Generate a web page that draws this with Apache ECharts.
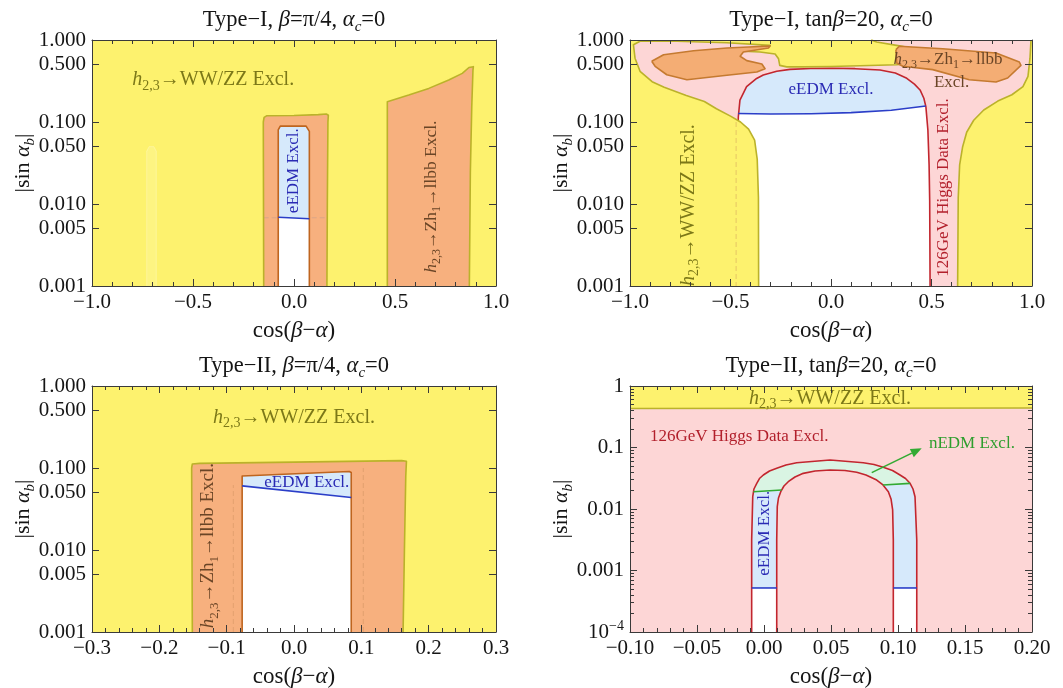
<!DOCTYPE html>
<html>
<head>
<meta charset="utf-8">
<title>Exclusion regions in the (cos(β−α), |sin α_b|) plane</title>
<script src="https://cdn.jsdelivr.net/npm/echarts@6.0.0/dist/echarts.min.js"></script>
<style>
  html, body { margin: 0; padding: 0; background: #ffffff; }
  #chart { width: 1063px; height: 688px; }
</style>
</head>
<body>
<div id="chart"></div>
<script>
// ---------- axis ticks and labels ----------
const xTicksWide = [-1, -0.5, 0, 0.5, 1];
const xLabelsWide = ['−1.0', '−0.5', '0.0', '0.5', '1.0'];
const xTicksNarrow = [-0.3, -0.2, -0.1, 0, 0.1, 0.2, 0.3];
const xLabelsNarrow = ['−0.3', '−0.2', '−0.1', '0.0', '0.1', '0.2', '0.3'];
const xTicksFine = [-0.1, -0.05, 0, 0.05, 0.1, 0.15, 0.2];
const xLabelsFine = ['−0.10', '−0.05', '0.00', '0.05', '0.10', '0.15', '0.20'];
const yTicksThreeDecades = [0.001, 0.005, 0.01, 0.05, 0.1, 0.5, 1];
const yLabelsThreeDecades = ['0.001', '0.005', '0.010', '0.050', '0.100', '0.500', '1.000'];
const yTicksFourDecades = [0.0001, 0.001, 0.01, 0.1, 1];
const yLabelsFourDecades = ['{m|10}{e|−4}', '0.001', '0.01', '0.1', '1'];
const yMinorFourDecades = [
  0.0002, 0.0003, 0.0004, 0.0005, 0.0006, 0.0007, 0.0008, 0.0009,
  0.002, 0.003, 0.004, 0.005, 0.006, 0.007, 0.008, 0.009,
  0.02, 0.03, 0.04, 0.05, 0.06, 0.07, 0.08, 0.09,
  0.2, 0.3, 0.4, 0.5, 0.6, 0.7, 0.8, 0.9
];

// ---------- Type-I, β = π/4 : region outlines [cos(β−α), |sin α_b|] ----------
const t1aWWZZ = [[-1, 0.001], [1, 0.001], [1, 1], [-1, 1]];
const t1aFaintStrip = [[-0.729, 0.001], [-0.729, 0.044], [-0.717, 0.05], [-0.694, 0.05], [-0.682, 0.044], [-0.682, 0.001]];
const t1aLlbbCentre = [[-0.150, 0.001], [-0.152, 0.1], [-0.148, 0.114], [-0.136, 0.119], [0.0, 0.12], [0.12, 0.123], [0.16, 0.125], [0.17, 0.121], [0.168, 0.1], [0.165, 0.01], [0.163, 0.001]];
const t1aEdmInner = [[-0.078, 0.001], [-0.078, 0.08], [-0.068, 0.089], [0.06, 0.089], [0.076, 0.077], [0.076, 0.001]];
const t1aEdmLine = [[-0.078, 0.0069], [0.076, 0.0066]];
const t1aFaintLevel = [[-0.15, 0.0068], [0.168, 0.0068]];
const t1aLlbbRight = [[0.462, 0.001], [0.462, 0.177], [0.568, 0.213], [0.667, 0.257], [0.766, 0.325], [0.833, 0.392], [0.866, 0.462], [0.888, 0.473], [0.886, 0.43], [0.88, 0.154], [0.873, 0.024], [0.868, 0.001]];

// ---------- Type-I, tanβ = 20 ----------
const t1bHiggsExcl = [[-1, 0.001], [1, 0.001], [1, 1], [-1, 1]];
const t1bHiggsEdge = [[-0.462, 0.09], [-0.461, 0.116], [-0.453, 0.185], [-0.42, 0.27], [-0.37, 0.34], [-0.337, 0.374], [-0.27, 0.415], [-0.204, 0.438], [-0.1, 0.45], [0.0, 0.452], [0.12, 0.447], [0.244, 0.43], [0.32, 0.395], [0.377, 0.341], [0.415, 0.29], [0.443, 0.246], [0.462, 0.195], [0.472, 0.154], [0.482, 0.08], [0.488, 0.03], [0.491, 0.011], [0.493, 0.001]];
const t1bEdmLine = [[-0.462, 0.127], [-0.3, 0.125], [-0.1, 0.126], [0.1, 0.13], [0.3, 0.139], [0.472, 0.157]];
const t1bHiddenHiggs = [[-0.472, 0.1], [-0.472, 0.001]];
const t1bWWZZLeft = [
  [-1, 0.001], [-1, 1], [0.2, 1], [0.227, 0.945], [0.326, 0.86], [0.40, 0.80], [0.40, 0.52], [0.326, 0.50],
  [0.144, 0.485], [0.0, 0.475], [-0.137, 0.47], [-0.22, 0.47], [-0.255, 0.49], [-0.261, 0.59], [-0.278, 0.675],
  [-0.353, 0.714], [-0.436, 0.728], [-0.40, 0.79], [-0.303, 0.86], [-0.518, 0.927], [-0.767, 0.964], [-0.95, 0.964],
  [-0.983, 0.876], [-0.975, 0.6], [-0.95, 0.415], [-0.89, 0.31], [-0.83, 0.265], [-0.72, 0.21], [-0.63, 0.178],
  [-0.57, 0.145], [-0.50, 0.118], [-0.45, 0.1], [-0.41, 0.082], [-0.38, 0.06], [-0.367, 0.035], [-0.361, 0.012], [-0.36, 0.001]
];
const t1bWWZZRight = [[1, 0.001], [1, 1], [0.995, 1], [0.99, 0.6], [0.98, 0.36], [0.955, 0.27], [0.9, 0.215], [0.83, 0.18], [0.76, 0.14], [0.71, 0.105], [0.675, 0.075], [0.655, 0.05], [0.64, 0.03], [0.633, 0.012], [0.63, 0.001]];
const t1bLlbbLeft = [[-0.892, 0.55], [-0.833, 0.662], [-0.684, 0.741], [-0.518, 0.80], [-0.303, 0.845], [-0.311, 0.80], [-0.436, 0.714], [-0.452, 0.633], [-0.419, 0.56], [-0.344, 0.51], [-0.328, 0.447], [-0.369, 0.407], [-0.518, 0.371], [-0.717, 0.328], [-0.817, 0.377], [-0.875, 0.478]];
const t1bLlbbRight = [[0.323, 0.762], [0.34, 0.838], [0.556, 0.783], [0.821, 0.694], [0.937, 0.539], [0.945, 0.491], [0.879, 0.344], [0.821, 0.308], [0.688, 0.328], [0.506, 0.435], [0.357, 0.478], [0.327, 0.525]];

// ---------- Type-II, β = π/4 ----------
const t2aWWZZ = [[-0.3, 0.001], [0.3, 0.001], [0.3, 1], [-0.3, 1]];
const t2aLlbb = [[-0.151, 0.001], [-0.152, 0.1], [-0.151, 0.112], [-0.14, 0.114], [0.0, 0.118], [0.16, 0.123], [0.167, 0.121], [0.166, 0.08], [0.164, 0.01], [0.162, 0.001]];
const t2aEdmInner = [[-0.077, 0.001], [-0.077, 0.08], [0.082, 0.0905], [0.085, 0.088], [0.085, 0.001]];
const t2aEdmLine = [[-0.077, 0.0605], [0.085, 0.0437]];
const t2aFaintLeft = [[-0.09, 0.001], [-0.09, 0.062]];
const t2aFaintRight = [[0.103, 0.001], [0.103, 0.1]];

// ---------- Type-II, tanβ = 20 ----------
const t2bHiggsExcl = [[-0.1, 0.0001], [0.2, 0.0001], [0.2, 1], [-0.1, 1]];
const t2bWWZZ = [[-0.1, 0.43], [0.05, 0.435], [0.2, 0.44], [0.2, 1], [-0.1, 1]];
const t2bOuterArch = [
  [-0.0092, 0.0001], [-0.0092, 0.00313], [-0.0084, 0.01585], [-0.0075, 0.02115], [-0.0054, 0.0262], [-0.0034, 0.0313],
  [-0.0005, 0.0357], [0.0041, 0.0415], [0.0095, 0.0459], [0.0164, 0.0519], [0.0244, 0.0566], [0.0493, 0.0626],
  [0.0741, 0.0566], [0.0821, 0.0529], [0.0890, 0.0476], [0.0959, 0.0423], [0.1015, 0.0357], [0.1056, 0.0313],
  [0.1090, 0.0262], [0.1112, 0.02115], [0.1127, 0.01585], [0.1140, 0.00313], [0.1140, 0.0001]
];
const t2bInnerArch = [
  [0.0095, 0.0001], [0.0095, 0.00313], [0.0099, 0.01089], [0.0108, 0.0151], [0.0125, 0.0191], [0.0149, 0.02366],
  [0.0181, 0.0278], [0.0231, 0.0331], [0.0293, 0.038], [0.0381, 0.0415], [0.0493, 0.0431], [0.0604, 0.0423],
  [0.0692, 0.0395], [0.0761, 0.0357], [0.0841, 0.0296], [0.0888, 0.0246], [0.0928, 0.0191], [0.0948, 0.01455],
  [0.0960, 0.00964], [0.0965, 0.00313], [0.0965, 0.0001]
];
const t2bNedmLeft = [[-0.0079, 0.0191], [0.0132, 0.0204]];
const t2bNedmRight = [[0.0888, 0.0246], [0.109, 0.0261]];
const t2bEdmLeft = [[-0.0092, 0.00052], [0.0095, 0.00052]];
const t2bEdmRight = [[0.0965, 0.00052], [0.114, 0.00052]];
const t2bArrow = [[0.0804, 0.039], [0.1177, 0.097]];

// ---------- styling ----------
const FONT = '"Liberation Serif", "Times New Roman", serif';
const AXIS = '#3a3a3a';
const LABEL = '#151515';
const YELLOW = '#fdf26e';
const ORANGE = '#f7b07e';
const BLOB = '#f4ad74';
const PINK = '#fdd6d6';
const LIGHT_BLUE = '#d6e9fb';
const LIGHT_GREEN = '#d9f4e3';
const WHITE = '#ffffff';
const OLIVE_EDGE = '#bbb22a';
const BROWN_EDGE = '#bf651f';
const BLOB_EDGE = '#c57a30';
const RED = '#c2262e';
const BLUE = '#2b3ec8';
const GREEN = '#33aa33';
const OLIVE_TEXT = '#7c7818';
const BROWN_TEXT = '#6a4526';
const EDM_TEXT = '#2a2ab4';
const HIGGS_TEXT = '#b2202c';
const NEDM_TEXT = '#2e9e2e';
const FAINT_FILL = 'rgba(255,252,205,0.22)';
const FAINT_LINE = 'rgba(170,150,150,0.35)';
const FAINT_DASH = 'rgba(200,140,90,0.35)';

const WWZZ_TEXT = '{i|h}{s|2,3}{n|→WW/ZZ Excl.}';
const LLBB_TEXT = '{i|h}{s|2,3}{n|→Zh}{s|1}{n|→llbb Excl.}';
const LLBB_LINE = '{i|h}{s|2,3}{n|→Zh}{s|1}{n|→llbb}';

const fill = (pts, color) => ({kind: 'fill', pts, color});
const line = (pts, color, width, dash) => ({kind: 'line', pts, color, width, dash});
const edge = (pts, color, width) => ({kind: 'edge', pts, color, width});
const arrow = (pts, color) => ({kind: 'arrow', pts, color});
const text = (at, str, color, size, opts) => Object.assign({kind: 'text', at, str, color, size}, opts || {});

const lastOf = a => a[a.length - 1];

// nEDM cap: outer arch above the chord joining the two nEDM end points
function capAbove(arch, a, b) {
  const la = Math.log10(a[1]), lb = Math.log10(b[1]);
  const above = arch.filter(p => p[0] > a[0] && p[0] < b[0] &&
    Math.log10(p[1]) > la + (lb - la) * (p[0] - a[0]) / (b[0] - a[0]));
  return [a, ...above, b];
}

const panels = [
  {
    title: '{n|Type−I, }{i|β}{n|=π/4, }{i|α}{si|c}{n|=0}',
    x: [-1, 1], xInterval: 0.5, xTicks: xTicksWide, xLabels: xLabelsWide,
    y: [0.001, 1], yTicks: yTicksThreeDecades, yLabels: yLabelsThreeDecades,
    layers: [
      fill(t1aWWZZ, YELLOW),
      fill(t1aFaintStrip, FAINT_FILL),
      edge(t1aFaintStrip, 'rgba(255,250,200,0.45)', 1),
      fill(t1aLlbbCentre, ORANGE),
      fill(t1aLlbbRight, ORANGE),
      line(t1aFaintLevel, FAINT_LINE, 1.2, [5, 3]),
      fill(t1aEdmInner, LIGHT_BLUE),
      fill([t1aEdmInner[0], ...t1aEdmLine, lastOf(t1aEdmInner)], WHITE),
      edge(t1aLlbbCentre, OLIVE_EDGE, 1.6),
      edge(t1aLlbbRight, OLIVE_EDGE, 1.6),
      edge(t1aEdmInner, BROWN_EDGE, 1.6),
      line(t1aEdmLine, BLUE, 1.6),
      text([-0.40, 0.325], WWZZ_TEXT, OLIVE_TEXT, 20),
      text([0.0, 0.0255], '{n|eEDM Excl.}', EDM_TEXT, 17, {rotate: true}),
      text([0.68, 0.0123], LLBB_TEXT, BROWN_TEXT, 17.5, {rotate: true})
    ]
  },
  {
    title: '{n|Type−I, tan}{i|β}{n|=20, }{i|α}{si|c}{n|=0}',
    x: [-1, 1], xInterval: 0.5, xTicks: xTicksWide, xLabels: xLabelsWide,
    y: [0.001, 1], yTicks: yTicksThreeDecades, yLabels: yLabelsThreeDecades,
    layers: [
      fill(t1bHiggsExcl, PINK),
      fill([[t1bHiggsEdge[0][0], 0.001], ...t1bHiggsEdge, [lastOf(t1bHiggsEdge)[0], 0.001]], LIGHT_BLUE),
      fill([[t1bEdmLine[0][0], 0.001], ...t1bEdmLine,
            ...t1bHiggsEdge.filter(p => p[0] > 0 && p[1] < lastOf(t1bEdmLine)[1])], WHITE),
      line(t1bHiggsEdge, RED, 1.6),
      line(t1bEdmLine, BLUE, 1.6),
      fill(t1bWWZZLeft, YELLOW),
      fill(t1bWWZZRight, YELLOW),
      line(t1bHiddenHiggs, FAINT_DASH, 1.2, [5, 3]),
      edge(t1bWWZZLeft, OLIVE_EDGE, 1.6),
      edge(t1bWWZZRight, OLIVE_EDGE, 1.6),
      fill(t1bLlbbLeft, BLOB),
      fill(t1bLlbbRight, BLOB),
      edge(t1bLlbbLeft, BLOB_EDGE, 1.6),
      edge(t1bLlbbRight, BLOB_EDGE, 1.6),
      text([0.0, 0.25], '{n|eEDM Excl.}', EDM_TEXT, 17),
      text([0.582, 0.57], LLBB_LINE, BROWN_TEXT, 17),
      text([0.60, 0.30], '{n|Excl.}', BROWN_TEXT, 17),
      text([0.559, 0.0159], '{n|126GeV Higgs Data Excl.}', HIGGS_TEXT, 17, {rotate: true}),
      text([-0.71, 0.0097], WWZZ_TEXT, OLIVE_TEXT, 20, {rotate: true})
    ]
  },
  {
    title: '{n|Type−II, }{i|β}{n|=π/4, }{i|α}{si|c}{n|=0}',
    x: [-0.3, 0.3], xInterval: 0.1, xTicks: xTicksNarrow, xLabels: xLabelsNarrow,
    y: [0.001, 1], yTicks: yTicksThreeDecades, yLabels: yLabelsThreeDecades,
    layers: [
      fill(t2aWWZZ, YELLOW),
      fill(t2aLlbb, ORANGE),
      line(t2aFaintLeft, FAINT_DASH, 1.2, [5, 3]),
      line(t2aFaintRight, FAINT_DASH, 1.2, [5, 3]),
      fill(t2aEdmInner, LIGHT_BLUE),
      fill([t2aEdmInner[0], ...t2aEdmLine, lastOf(t2aEdmInner)], WHITE),
      edge(t2aLlbb, OLIVE_EDGE, 1.6),
      edge(t2aEdmInner, BROWN_EDGE, 1.6),
      line(t2aEdmLine, BLUE, 1.6),
      text([0.0, 0.415], WWZZ_TEXT, OLIVE_TEXT, 20),
      text([-0.127, 0.0113], LLBB_TEXT, BROWN_TEXT, 19, {rotate: true}),
      text([0.019, 0.066], '{n|eEDM Excl.}', EDM_TEXT, 17)
    ]
  },
  {
    title: '{n|Type−II, tan}{i|β}{n|=20, }{i|α}{si|c}{n|=0}',
    x: [-0.1, 0.2], xInterval: 0.05, xTicks: xTicksFine, xLabels: xLabelsFine,
    y: [0.0001, 1], yTicks: yTicksFourDecades, yLabels: yLabelsFourDecades, yMinor: yMinorFourDecades,
    layers: [
      fill(t2bHiggsExcl, PINK),
      fill(t2bOuterArch, LIGHT_BLUE),
      fill(capAbove(t2bOuterArch, t2bNedmLeft[0], lastOf(t2bNedmRight)), LIGHT_GREEN),
      fill([[t2bEdmLeft[0][0], 0.0001], t2bEdmLeft[0], lastOf(t2bEdmRight), [lastOf(t2bEdmRight)[0], 0.0001]], WHITE),
      fill(t2bInnerArch, PINK),
      fill(t2bWWZZ, YELLOW),
      edge(t2bWWZZ, OLIVE_EDGE, 1.6),
      line(t2bOuterArch, RED, 1.6),
      line(t2bInnerArch, RED, 1.6),
      line(t2bNedmLeft, GREEN, 1.6),
      line(t2bNedmRight, GREEN, 1.6),
      line(t2bEdmLeft, BLUE, 1.6),
      line(t2bEdmRight, BLUE, 1.6),
      arrow(t2bArrow, GREEN),
      text([0.0493, 0.63], WWZZ_TEXT, OLIVE_TEXT, 20),
      text([-0.0851, 0.15], '{n|126GeV Higgs Data Excl.}', HIGGS_TEXT, 17, {align: 'left'}),
      text([0.1231, 0.117], '{n|nEDM Excl.}', NEDM_TEXT, 17, {align: 'left'}),
      text([0.0007, 0.00403], '{n|eEDM Excl.}', EDM_TEXT, 17, {rotate: true})
    ]
  }
];

const GRIDS = [
  {left: 92, top: 40, width: 404, height: 246},
  {left: 630, top: 40, width: 402, height: 246},
  {left: 92, top: 386, width: 404, height: 246},
  {left: 630, top: 386, width: 402, height: 246}
];

function richStyle(str, color, size, align) {
  const lh = Math.round(size * 1.3);
  const sub = Math.round(size * 0.68);
  return {
    text: str, fill: color, align: align || 'center', verticalAlign: 'middle',
    font: size + 'px ' + FONT, lineHeight: lh,
    rich: {
      n: {fill: color, fontSize: size, fontFamily: FONT, lineHeight: lh},
      i: {fill: color, fontSize: size, fontFamily: FONT, fontStyle: 'italic', lineHeight: lh},
      s: {fill: color, fontSize: sub, fontFamily: FONT, lineHeight: sub, verticalAlign: 'bottom'},
      si: {fill: color, fontSize: sub, fontFamily: FONT, fontStyle: 'italic', lineHeight: sub, verticalAlign: 'bottom'}
    }
  };
}

// split a closed outline into the runs that do not lie along the plot frame
function frameRuns(pts, b) {
  const same = (p, q) => (p[0] === b[0] && q[0] === b[0]) || (p[0] === b[1] && q[0] === b[1]) ||
                         (p[1] === b[2] && q[1] === b[2]) || (p[1] === b[3] && q[1] === b[3]);
  const runs = [];
  let cur = null;
  for (let i = 0; i < pts.length; i++) {
    const p = pts[i], q = pts[(i + 1) % pts.length];
    if (same(p, q)) { if (cur) { runs.push(cur); cur = null; } continue; }
    if (!cur) cur = [p];
    cur.push(q);
  }
  if (cur) runs.push(cur);
  return runs;
}

function makeRender(pn) {
  const bounds = [pn.x[0], pn.x[1], pn.y[0], pn.y[1]];
  return function (params, api) {
    const L = pn.layers[params.dataIndex];
    const z2 = params.dataIndex;
    const toPx = p => api.coord([p[0], Math.log10(p[1])]);
    if (L.kind === 'fill') {
      return {type: 'polygon', z2, shape: {points: L.pts.map(toPx)}, style: {fill: L.color, stroke: null}};
    }
    if (L.kind === 'line') {
      return {type: 'polyline', z2, shape: {points: L.pts.map(toPx)},
        style: {fill: null, stroke: L.color, lineWidth: L.width || 1.5, lineDash: L.dash || null, lineJoin: 'round', lineCap: 'butt'}};
    }
    if (L.kind === 'edge') {
      return {type: 'group', children: frameRuns(L.pts, bounds).map(run => ({
        type: 'polyline', z2, shape: {points: run.map(toPx)},
        style: {fill: null, stroke: L.color, lineWidth: L.width || 1.5, lineJoin: 'round'}
      }))};
    }
    if (L.kind === 'arrow') {
      const a = toPx(L.pts[0]), c = toPx(L.pts[1]);
      const dx = c[0] - a[0], dy = c[1] - a[1], len = Math.hypot(dx, dy);
      const ux = dx / len, uy = dy / len, hl = 11, hw = 4.5;
      const base = [c[0] - ux * hl, c[1] - uy * hl];
      return {type: 'group', children: [
        {type: 'line', z2, shape: {x1: a[0], y1: a[1], x2: base[0], y2: base[1]}, style: {stroke: L.color, lineWidth: 1.6}},
        {type: 'polygon', z2, shape: {points: [c, [base[0] - uy * hw, base[1] + ux * hw], [base[0] + uy * hw, base[1] - ux * hw]]},
          style: {fill: L.color}}
      ]};
    }
    const p = toPx(L.at);
    return {type: 'text', z2: 100 + z2, x: p[0], y: p[1], rotation: L.rotate ? Math.PI / 2 : 0,
      style: richStyle(L.str, L.color, L.size, L.align)};
  };
}

function labelFor(vals, labels, v, toAxis) {
  for (let i = 0; i < vals.length; i++) {
    if (Math.abs(toAxis(vals[i]) - v) < 1e-6) return labels[i];
  }
  return '';
}

const lineStyle = {color: AXIS, width: 1};
const xAxis = [];
const yAxis = [];
const series = [];
const graphics = [];

panels.forEach((pn, g) => {
  const xBase = {
    gridIndex: g, type: 'value', min: pn.x[0], max: pn.x[1], interval: pn.xInterval, z: 10,
    axisLine: {show: true, onZero: false, lineStyle},
    axisTick: {show: true, inside: true, length: 7, lineStyle},
    minorTick: {show: true, splitNumber: 5, length: 4, lineStyle},
    splitLine: {show: false}, minorSplitLine: {show: false}
  };
  xAxis.push(Object.assign({}, xBase, {
    position: 'bottom',
    axisLabel: {show: true, margin: 6, color: LABEL, fontFamily: FONT, fontSize: 21,
      showMinLabel: true, showMaxLabel: true,
      formatter: v => labelFor(pn.xTicks, pn.xLabels, v, t => t)}
  }));
  xAxis.push(Object.assign({}, xBase, {position: 'top', axisLabel: {show: false}}));

  const logTicks = pn.yTicks.map(v => Math.log10(v));
  const yBase = {
    gridIndex: g, type: 'value', min: Math.log10(pn.y[0]), max: Math.log10(pn.y[1]), z: 10,
    axisLine: {show: true, onZero: false, lineStyle},
    axisTick: {show: true, inside: true, length: 7, customValues: logTicks, lineStyle},
    splitLine: {show: false}
  };
  yAxis.push(Object.assign({}, yBase, {
    position: 'left',
    axisLabel: {show: true, margin: 6, customValues: logTicks, color: LABEL, fontFamily: FONT, fontSize: 21,
      formatter: v => labelFor(pn.yTicks, pn.yLabels, v, t => Math.log10(t)),
      rich: {
        m: {fontSize: 21, fontFamily: FONT, color: LABEL, lineHeight: 26},
        e: {fontSize: 14, fontFamily: FONT, color: LABEL, lineHeight: 14, verticalAlign: 'top'}
      }}
  }));
  yAxis.push(Object.assign({}, yBase, {position: 'right', axisLabel: {show: false}}));

  series.push({
    type: 'custom', coordinateSystem: 'cartesian2d', xAxisIndex: 2 * g, yAxisIndex: 2 * g,
    silent: true, z: 2,
    data: pn.layers.map(() => [pn.x[0], Math.log10(pn.y[0])]),
    renderItem: makeRender(pn)
  });

  const G = GRIDS[g];
  const cx = G.left + G.width / 2;
  graphics.push({type: 'text', x: cx, y: G.top - 20, z: 100, style: richStyle(pn.title, LABEL, 22.5, 'center')});
  graphics.push({type: 'text', x: cx, y: G.top + G.height + 44.5, z: 100,
    style: richStyle('{n|cos(}{i|β}{n|−}{i|α}{n|)}', LABEL, 23, 'center')});
  graphics.push({type: 'text', x: G.left - 69, y: G.top + G.height / 2, rotation: Math.PI / 2, z: 100,
    style: richStyle('{n||sin }{i|α}{si|b}{n||}', LABEL, 22, 'center')});
});

// minor log ticks on the four-decade panel
panels.forEach((pn, g) => {
  if (!pn.yMinor) return;
  const minorTicks = pn.yMinor.map(v => Math.log10(v));
  ['left', 'right'].forEach(pos => {
    yAxis.push({
      gridIndex: g, type: 'value', position: pos, min: Math.log10(pn.y[0]), max: Math.log10(pn.y[1]), z: 10,
      axisLine: {show: false, onZero: false},
      axisTick: {show: true, inside: true, length: 4, customValues: minorTicks, lineStyle},
      axisLabel: {show: false}, splitLine: {show: false}
    });
  });
});

const chart = echarts.init(document.getElementById('chart'), null, {renderer: 'canvas'});
chart.setOption({
  animation: false,
  backgroundColor: '#ffffff',
  grid: GRIDS.map(G => Object.assign({containLabel: false, outerBoundsMode: 'none'}, G)),
  xAxis, yAxis, series,
  graphic: {elements: graphics}
});
</script>
</body>
</html>
